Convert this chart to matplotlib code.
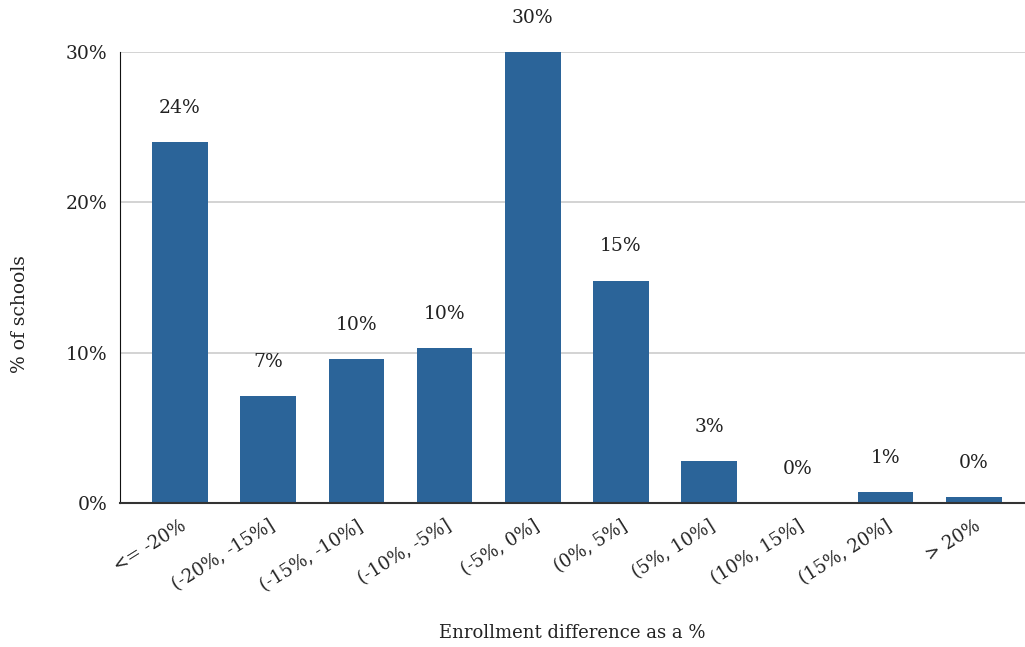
import matplotlib
matplotlib.use("Agg")
import matplotlib.pyplot as plt

# dane
categories = ["<= -20%", "(-20%, -15%]", "(-15%, -10%]", "(-10%, -5%]", "(-5%, 0%]",
              "(0%, 5%]", "(5%, 10%]", "(10%, 15%]", "(15%, 20%]", "> 20%"]
values = [24.0, 7.1, 9.6, 10.3, 30.0, 14.8, 2.8, 0.0, 0.73, 0.4]
value_labels = ["24%", "7%", "10%", "10%", "30%", "15%", "3%", "0%", "1%", "0%"]
yticks = [0, 10, 20, 30]
ytick_labels = ["0%", "10%", "20%", "30%"]

bar_color = "#2b6499"
plt.rcParams["font.family"] = ["DejaVu Serif"]

fig = plt.figure(figsize=(10.25, 6.47), dpi=100)
ax = fig.add_axes([0.117, 0.2226, 0.883, 0.697])

x = list(range(len(categories)))
ax.bar(x, values, width=0.63, color=bar_color, zorder=3)

for xi, v, lab in zip(x, values, value_labels):
    ax.annotate(lab, (xi, v), xytext=(0, 24.5), textcoords="offset points",
                ha="center", va="center", fontsize=13.5, color="#222222",
                annotation_clip=False)

ax.set_xlim(-0.68, 9.58)
ax.set_ylim(0, 30)
ax.set_yticks(yticks)
ax.set_yticklabels(ytick_labels, fontsize=13.5, color="#222222")
ax.set_xticks(x)
ax.set_xticklabels(categories, rotation=32, ha="right", rotation_mode="anchor",
                   fontsize=13, color="#222222")
ax.tick_params(axis="y", length=0, pad=9)
ax.tick_params(axis="x", length=0, pad=10)

ax.yaxis.grid(True, color="#cccccc", linewidth=1.2, zorder=0)
for s in ["top", "right"]:
    ax.spines[s].set_visible(False)
ax.spines["left"].set_color("#111111")
ax.spines["bottom"].set_color("#333333")
ax.spines["bottom"].set_linewidth(1.5)
ax.spines["bottom"].set_zorder(4)

ax.set_ylabel("% of schools", fontsize=13.5, color="#222222")
ax.yaxis.set_label_coords(-0.10, 0.42)
ax.set_xlabel("Enrollment difference as a %", fontsize=13, color="#222222", labelpad=21)

fig.savefig("out.png", dpi=100, facecolor="white")
